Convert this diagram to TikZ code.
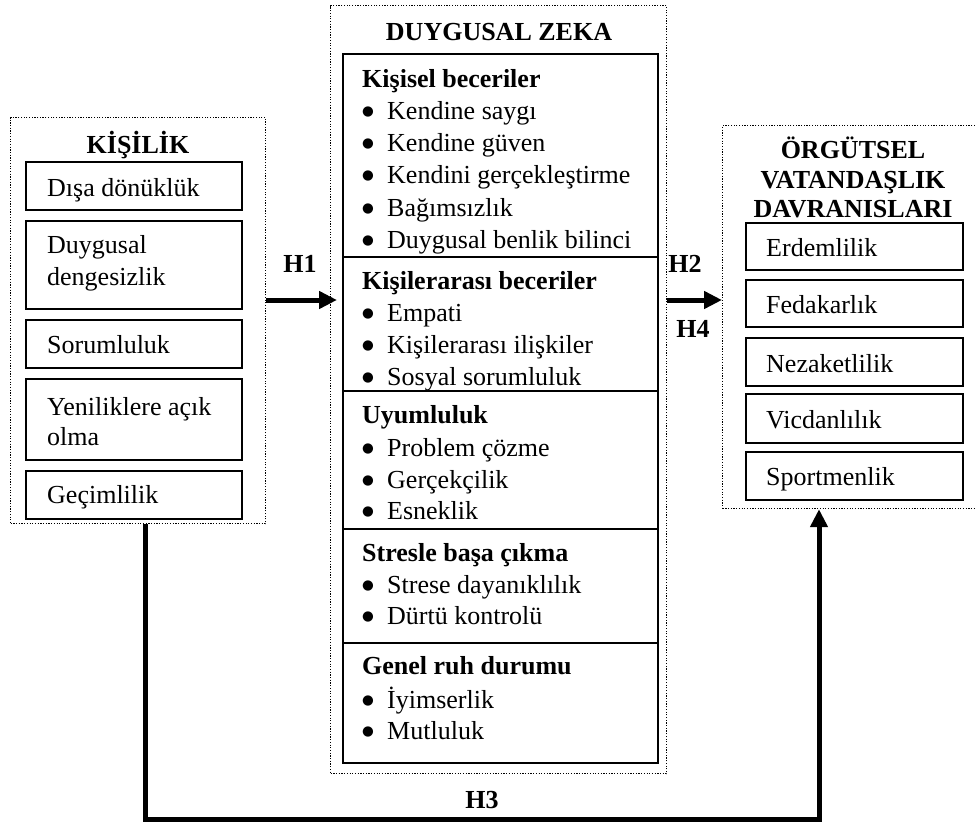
\documentclass[tikz,border=0pt]{standalone}
\usepackage{fontspec}
\setmainfont{Liberation Serif}
\newfontfamily\dzsym{DejaVu Sans}
\usetikzlibrary{arrows.meta}
\newcommand\dzbul{{\dzsym\fontsize{13.5}{14}\selectfont\raisebox{4pt}{●}}}
\newcommand\dzitem[3]{\node[txt] (#1) at (362,#2) {\makebox[25pt][l]{\dzbul}#3};}
\begin{document}
\begin{tikzpicture}[x=1pt,y=-1pt,
  every node/.style={inner sep=0pt, font=\fontsize{26}{32}\selectfont},
  dotbox/.style={draw, line width=1.2pt, dash pattern=on 1.2pt off 1.5pt, anchor=north west},
  itembox/.style={draw, line width=1.9pt, fill=white, anchor=north west},
  txt/.style={anchor=base west},
  ttl/.style={anchor=base, font=\fontsize{26}{32}\selectfont\bfseries},
  hd/.style={anchor=base west, font=\fontsize{26}{32}\selectfont\bfseries},
  conn/.style={line width=5pt, -{Triangle[length=18pt,width=17pt]}},
]
\useasboundingbox (0,0) rectangle (975,822);

% ---------- KISILIK ----------
\node[dotbox, minimum width=255pt, minimum height=406pt] (kis) at (10,117) {};
\node[ttl] (kisT) at (138,153) {KİŞİLİK};
\node[itembox, minimum width=216pt, minimum height=48pt] (k1) at (25,161) {};
\node[itembox, minimum width=216pt, minimum height=88pt] (k2) at (25,220) {};
\node[itembox, minimum width=216pt, minimum height=48pt] (k3) at (25,319) {};
\node[itembox, minimum width=216pt, minimum height=81pt] (k4) at (25,378) {};
\node[itembox, minimum width=216pt, minimum height=48pt] (k5) at (25,470) {};
\node[txt] (k1t) at (47,196) {Dışa dönüklük};
\node[txt] (k2a) at (47,253) {Duygusal};
\node[txt] (k2b) at (47,285) {dengesizlik};
\node[txt] (k3t) at (47,353) {Sorumluluk};
\node[txt] (k4a) at (47,415) {Yeniliklere açık};
\node[txt] (k4b) at (47,445) {olma};
\node[txt] (k5t) at (47,503) {Geçimlilik};

% ---------- DUYGUSAL ZEKA ----------
\node[dotbox, minimum width=336pt, minimum height=768pt] (dz) at (330,5) {};
\node[ttl] (dzT) at (499,40) {DUYGUSAL ZEKA};

\node[itembox, minimum width=315pt, minimum height=203pt] (s1) at (342,53) {};
\node[hd] (s1h) at (362,87) {Kişisel beceriler};
\dzitem{i11}{119}{Kendine saygı}
\dzitem{i12}{151}{Kendine güven}
\dzitem{i13}{183}{Kendini gerçekleştirme}
\dzitem{i14}{216}{Bağımsızlık}
\dzitem{i15}{248}{Duygusal benlik bilinci}

\node[itembox, minimum width=315pt, minimum height=134pt] (s2) at (342,256) {};
\node[hd] (s2h) at (362,289) {Kişilerarası beceriler};
\dzitem{i21}{321}{Empati}
\dzitem{i22}{353}{Kişilerarası ilişkiler}
\dzitem{i23}{385}{Sosyal sorumluluk}

\node[itembox, minimum width=315pt, minimum height=138pt] (s3) at (342,390) {};
\node[hd] (s3h) at (362,423) {Uyumluluk};
\dzitem{i31}{456}{Problem çözme}
\dzitem{i32}{488}{Gerçekçilik}
\dzitem{i33}{519}{Esneklik}

\node[itembox, minimum width=315pt, minimum height=114pt] (s4) at (342,528) {};
\node[hd] (s4h) at (362,561) {Stresle başa çıkma};
\dzitem{i41}{593}{Strese dayanıklılık}
\dzitem{i42}{624}{Dürtü kontrolü}

\node[itembox, minimum width=315pt, minimum height=120pt] (s5) at (342,642) {};
\node[hd] (s5h) at (362,674) {Genel ruh durumu};
\dzitem{i51}{708}{İyimserlik}
\dzitem{i52}{739}{Mutluluk}

% ---------- ORGUTSEL VATANDASLIK ----------
\node[dotbox, minimum width=256pt, minimum height=383pt] (ovd) at (722,125) {};
\node[ttl] (ovT1) at (853,158) {ÖRGÜTSEL};
\node[ttl] (ovT2) at (853,188) {VATANDAŞLIK};
\node[ttl] (ovT3) at (853,217) {DAVRANISLARI};
\node[itembox, minimum width=217pt, minimum height=47pt] (e1) at (745,222) {};
\node[itembox, minimum width=217pt, minimum height=47pt] (e2) at (745,279) {};
\node[itembox, minimum width=217pt, minimum height=48pt] (e3) at (745,337) {};
\node[itembox, minimum width=217pt, minimum height=49pt] (e4) at (745,393) {};
\node[itembox, minimum width=217pt, minimum height=48pt] (e5) at (745,451) {};
\node[txt] (e1t) at (766,256) {Erdemlilik};
\node[txt] (e2t) at (766,313) {Fedakarlık};
\node[txt] (e3t) at (766,372) {Nezaketlilik};
\node[txt] (e4t) at (766,428) {Vicdanlılık};
\node[txt] (e5t) at (766,485) {Sportmenlik};

% ---------- connectors ----------
\coordinate (hy) at (0,300);
\draw[conn] (kis.east |- hy) -- ([xshift=7pt]dz.west |- hy);
\draw[conn] (dz.east |- hy) -- (ovd.west |- hy);
\node[ttl] (H1) at (300,272) {H1};
\node[ttl] (H2) at (685,272) {H2};
\node[ttl] (H4) at (693,337) {H4};

\coordinate (c1) at (145.5,819.5);
\coordinate (c2) at (819,819.5);
\draw[conn] (c1 |- kis.south) -- (c1) -- (c2) -- (c2 |- ovd.south);
\node[ttl] (H3) at (482,808) {H3};
\end{tikzpicture}
\end{document}
